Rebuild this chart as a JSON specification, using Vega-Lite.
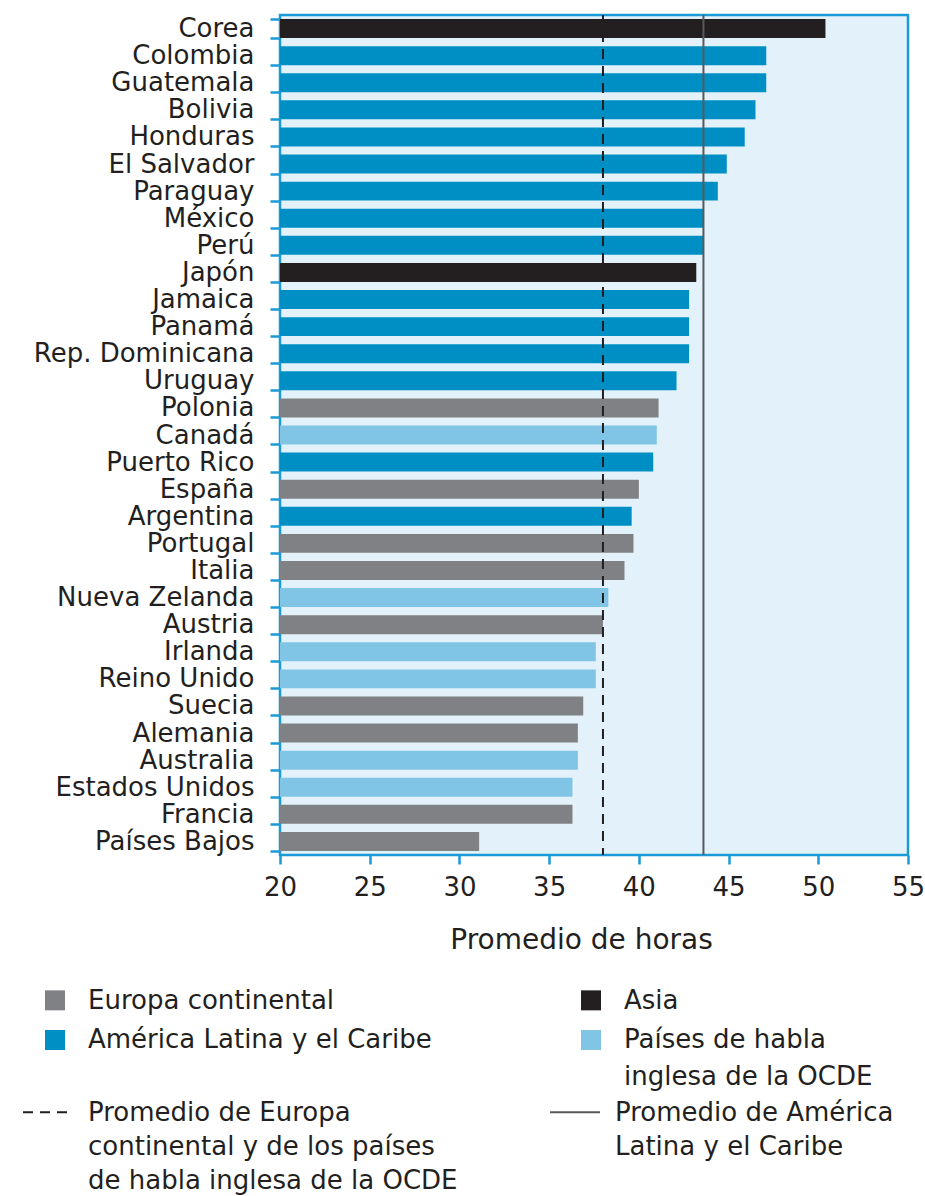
{
  "$schema": "https://vega.github.io/schema/vega-lite/v6.json",
  "width": 628,
  "height": 840,
  "autosize": {"type": "none"},
  "padding": {"left": 280, "top": 15, "right": 17, "bottom": 341},
  "background": "white",
  "config": {
    "font": "DejaVu Sans",
    "view": {"stroke": "#1a9ad6", "strokeWidth": 2.5, "fill": "#e3f2fa"},
    "axis": {
      "domain": false,
      "grid": false,
      "labelColor": "#231f20",
      "tickColor": "#1a9ad6",
      "tickWidth": 2.5,
      "labelFont": "DejaVu Sans",
      "titleFont": "DejaVu Sans",
      "titleFontWeight": "normal",
      "titleColor": "#231f20"
    },
    "legend": {
      "labelFont": "DejaVu Sans",
      "labelColor": "#231f20",
      "labelFontSize": 26,
      "labelLimit": 600,
      "padding": 0
    }
  },
  "datasets": {
    "paises": [
      {"pais": "Corea", "horas": 50.4, "region": "Asia"},
      {"pais": "Colombia", "horas": 47.1, "region": "América Latina y el Caribe"},
      {"pais": "Guatemala", "horas": 47.1, "region": "América Latina y el Caribe"},
      {"pais": "Bolivia", "horas": 46.5, "region": "América Latina y el Caribe"},
      {"pais": "Honduras", "horas": 45.9, "region": "América Latina y el Caribe"},
      {"pais": "El Salvador", "horas": 44.9, "region": "América Latina y el Caribe"},
      {"pais": "Paraguay", "horas": 44.4, "region": "América Latina y el Caribe"},
      {"pais": "México", "horas": 43.6, "region": "América Latina y el Caribe"},
      {"pais": "Perú", "horas": 43.6, "region": "América Latina y el Caribe"},
      {"pais": "Japón", "horas": 43.2, "region": "Asia"},
      {"pais": "Jamaica", "horas": 42.8, "region": "América Latina y el Caribe"},
      {"pais": "Panamá", "horas": 42.8, "region": "América Latina y el Caribe"},
      {"pais": "Rep. Dominicana", "horas": 42.8, "region": "América Latina y el Caribe"},
      {"pais": "Uruguay", "horas": 42.1, "region": "América Latina y el Caribe"},
      {"pais": "Polonia", "horas": 41.1, "region": "Europa continental"},
      {"pais": "Canadá", "horas": 41.0, "region": "Países de habla inglesa de la OCDE"},
      {"pais": "Puerto Rico", "horas": 40.8, "region": "América Latina y el Caribe"},
      {"pais": "España", "horas": 40.0, "region": "Europa continental"},
      {"pais": "Argentina", "horas": 39.6, "region": "América Latina y el Caribe"},
      {"pais": "Portugal", "horas": 39.7, "region": "Europa continental"},
      {"pais": "Italia", "horas": 39.2, "region": "Europa continental"},
      {"pais": "Nueva Zelanda", "horas": 38.3, "region": "Países de habla inglesa de la OCDE"},
      {"pais": "Austria", "horas": 38.0, "region": "Europa continental"},
      {"pais": "Irlanda", "horas": 37.6, "region": "Países de habla inglesa de la OCDE"},
      {"pais": "Reino Unido", "horas": 37.6, "region": "Países de habla inglesa de la OCDE"},
      {"pais": "Suecia", "horas": 36.9, "region": "Europa continental"},
      {"pais": "Alemania", "horas": 36.6, "region": "Europa continental"},
      {"pais": "Australia", "horas": 36.6, "region": "Países de habla inglesa de la OCDE"},
      {"pais": "Estados Unidos", "horas": 36.3, "region": "Países de habla inglesa de la OCDE"},
      {"pais": "Francia", "horas": 36.3, "region": "Europa continental"},
      {"pais": "Países Bajos", "horas": 31.1, "region": "Europa continental"}
    ],
    "promedios": [
      {"linea": "Promedio de Europa continental y de los países de habla inglesa de la OCDE", "horas": 38.0},
      {"linea": "Promedio de América Latina y el Caribe", "horas": 43.6}
    ]
  },
  "layer": [
    {
      "data": {"name": "paises"},
      "mark": {"type": "bar"},
      "encoding": {
        "y": {
          "field": "pais",
          "type": "nominal",
          "sort": null,
          "scale": {"paddingInner": 0.3, "paddingOuter": 0.15},
          "axis": {
            "title": null,
            "labelFontSize": 26,
            "labelLimit": 300,
            "tickBand": "extent",
            "tickSize": 10,
            "labelPadding": 16
          }
        },
        "x": {
          "field": "horas",
          "type": "quantitative",
          "scale": {"domain": [20, 55], "nice": false, "zero": false},
          "axis": {
            "values": [20, 25, 30, 35, 40, 45, 50, 55],
            "title": "Promedio de horas",
            "labelFontSize": 26,
            "labelFlush": false,
            "titleFontSize": 28,
            "titleX": 301,
            "tickSize": 9,
            "labelPadding": 10,
            "titlePadding": 26
          }
        },
        "x2": {"datum": 20},
        "color": {
          "field": "region",
          "type": "nominal",
          "scale": {
            "domain": ["Europa continental", "América Latina y el Caribe", "Asia", "Países de habla inglesa de la OCDE"],
            "range": ["#808184", "#008fc5", "#231f20", "#80c5e5"]
          },
          "legend": {
            "title": null,
            "orient": "none",
            "legendX": -238,
            "legendY": 972,
            "columns": 2,
            "columnPadding": 146,
            "rowPadding": 13,
            "symbolType": "square",
            "symbolSize": 400,
            "symbolStrokeWidth": 0,
            "symbolOpacity": 1,
            "labelOffset": 20,
            "labelExpr": "datum.label == 'Países de habla inglesa de la OCDE' ? ['Países de habla', 'inglesa de la OCDE'] : datum.label",
            "encode": {
              "labels": {
                "update": {
                  "lineHeight": {"value": 37},
                  "baseline": {"value": "top"},
                  "dy": {"value": -12.7}
                }
              }
            }
          }
        }
      }
    },
    {
      "data": {"name": "promedios"},
      "mark": {"type": "rule", "strokeWidth": 2},
      "encoding": {
        "x": {"field": "horas", "type": "quantitative"},
        "stroke": {
          "field": "linea",
          "type": "nominal",
          "scale": {
            "domain": ["Promedio de Europa continental y de los países de habla inglesa de la OCDE", "Promedio de América Latina y el Caribe"],
            "range": ["#231f20", "#58595b"]
          },
          "legend": {
            "title": null,
            "orient": "none",
            "legendX": -258,
            "legendY": 1071,
            "columns": 2,
            "columnPadding": 88,
            "symbolType": "stroke",
            "symbolSize": 2500,
            "symbolStrokeWidth": 2,
            "labelOffset": 14,
            "labelExpr": "datum.label == 'Promedio de América Latina y el Caribe' ? ['Promedio de América', 'Latina y el Caribe', ' '] : ['Promedio de Europa', 'continental y de los países', 'de habla inglesa de la OCDE']",
            "encode": {
              "labels": {
                "update": {
                  "lineHeight": {"value": 34},
                  "baseline": {"value": "top"},
                  "dy": {"value": -12.7}
                }
              }
            }
          }
        },
        "strokeDash": {
          "field": "linea",
          "type": "nominal",
          "scale": {
            "domain": ["Promedio de Europa continental y de los países de habla inglesa de la OCDE", "Promedio de América Latina y el Caribe"],
            "range": [[10, 7], [1, 0]]
          },
          "legend": {
            "title": null,
            "orient": "none",
            "legendX": -258,
            "legendY": 1071,
            "columns": 2,
            "columnPadding": 88,
            "symbolType": "stroke",
            "symbolSize": 2500,
            "symbolStrokeWidth": 2,
            "labelOffset": 14,
            "labelExpr": "datum.label == 'Promedio de América Latina y el Caribe' ? ['Promedio de América', 'Latina y el Caribe', ' '] : ['Promedio de Europa', 'continental y de los países', 'de habla inglesa de la OCDE']",
            "encode": {
              "labels": {
                "update": {
                  "lineHeight": {"value": 34},
                  "baseline": {"value": "top"},
                  "dy": {"value": -12.7}
                }
              }
            }
          }
        }
      }
    }
  ]
}
